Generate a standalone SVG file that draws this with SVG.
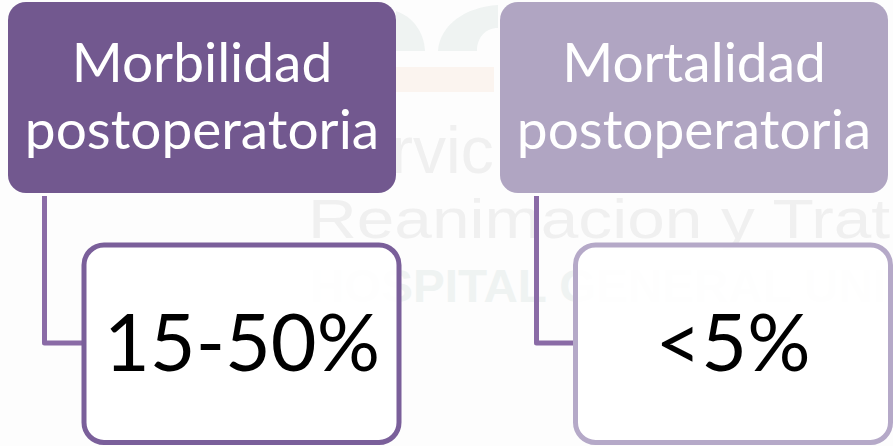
<svg xmlns="http://www.w3.org/2000/svg" width="893" height="446" viewBox="0 0 893 446">
<style>
.wm{font-family:"Liberation Sans",Arial,sans-serif;fill:#f0f0f0}
.h{font-family:Lato,"Open Sans",sans-serif;font-size:55px;fill:#fff;text-anchor:middle}
.v{font-family:Lato,"Open Sans",sans-serif;font-size:79px;fill:#000;text-anchor:middle}
.child{fill:#fff;fill-opacity:.9;stroke-width:5}
.conn{fill:none;stroke:#8a6ba6;stroke-width:5;stroke-linejoin:round}
</style>
<rect width="893" height="446" fill="#fdfdfd"/>
<g id="watermark">
<path d="M396 11C413 17 424 32 425 51H396Z" fill="#eff3f2"/>
<path d="M438 51C440 25 465 7 498 5V28C485 28 477 38 477 51Z" fill="#eff3f2"/>
<rect x="396" y="67" width="98" height="25" fill="#fbf4ef"/>
<text class="wm" x="391" y="173" font-size="66">rvic</text>
<text class="wm" x="308" y="238" font-size="56" textLength="582" lengthAdjust="spacingAndGlyphs">Reanimacion y Trat</text>
<text class="wm" x="310" y="302" font-size="47" font-weight="700" textLength="576" lengthAdjust="spacingAndGlyphs" style="fill:#eff3f2">HOSPITAL GENERAL UNI</text>
</g>
<g id="connectors">
<path class="conn" d="M44.500 196V343H84"/>
<path class="conn" d="M536.500 196V343H576"/>
</g>
<g id="node-morbilidad">
<rect x="8" y="2" width="388" height="191" rx="18" fill="#72588f"/>
<text class="h" x="202" y="82">Morbilidad</text>
<text class="h" x="202" y="149">postoperatoria</text>
</g>
<g id="node-mortalidad">
<rect x="500" y="2" width="388" height="191" rx="18" fill="#b0a5c2"/>
<text class="h" x="694" y="82">Mortalidad</text>
<text class="h" x="694" y="149">postoperatoria</text>
</g>
<g id="node-15-50">
<rect class="child" x="84" y="245" width="315" height="197.500" rx="20" stroke="#7a5f9a"/>
<text class="v" x="242" y="371">15-50%</text>
</g>
<g id="node-5">
<rect class="child" x="575.500" y="245" width="315" height="197.500" rx="20" stroke="#b5a9c8"/>
<text class="v" x="733" y="371">&lt;5%</text>
</g>
</svg>
